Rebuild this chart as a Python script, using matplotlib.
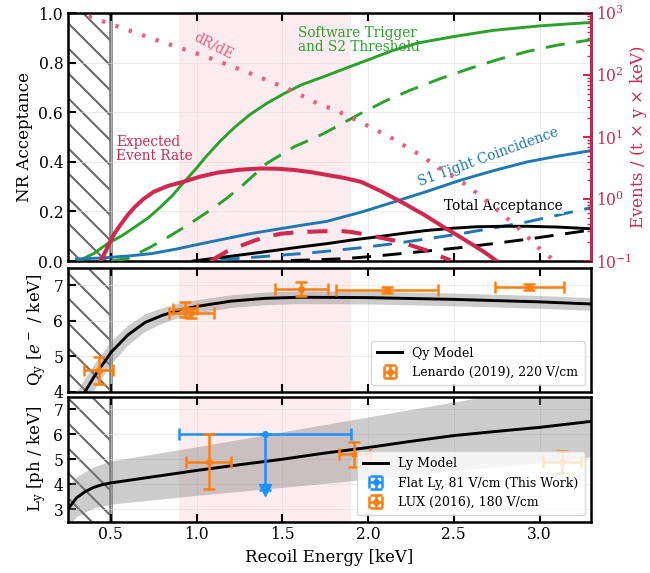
import numpy as np
import matplotlib
matplotlib.use("Agg")
import matplotlib.pyplot as plt
from matplotlib.lines import Line2D
from matplotlib.patches import Rectangle
from matplotlib.transforms import IdentityTransform

plt.rcParams['font.family'] = ['DejaVu Serif']
plt.rcParams['mathtext.fontset'] = 'dejavuserif'

# ---- top panel: acceptances (linear) ----
trig_x = [0.31, 0.4, 0.48, 0.56, 0.64, 0.72, 0.79, 0.86, 0.92, 1.0, 1.06, 1.14, 1.22, 1.31, 1.41, 1.51, 1.61, 1.76, 1.88, 2.0, 2.14, 2.29, 2.5, 2.73, 3.0, 3.3]
trig_y = [0.0, 0.03, 0.07, 0.1, 0.137, 0.175, 0.218, 0.265, 0.313, 0.375, 0.425, 0.485, 0.538, 0.59, 0.636, 0.675, 0.71, 0.748, 0.78, 0.811, 0.848, 0.879, 0.905, 0.93, 0.948, 0.962]
trig_d_x = [0.5, 0.6, 0.73, 0.83, 0.93, 1.08, 1.17, 1.26, 1.41, 1.57, 1.7, 1.76, 1.96, 2.1, 2.25, 2.42, 2.6, 2.76, 2.93, 3.1, 3.3]
trig_d_y = [0.0, 0.01, 0.056, 0.095, 0.137, 0.205, 0.25, 0.3, 0.394, 0.461, 0.5, 0.521, 0.596, 0.645, 0.69, 0.735, 0.778, 0.813, 0.845, 0.87, 0.892]
s1_x = [0.3, 0.44, 0.6, 0.74, 0.88, 1.03, 1.17, 1.32, 1.46, 1.61, 1.76, 1.96, 2.15, 2.35, 2.54, 2.73, 2.93, 3.1, 3.3]
s1_y = [0.008, 0.012, 0.02, 0.03, 0.048, 0.07, 0.09, 0.111, 0.127, 0.144, 0.16, 0.197, 0.238, 0.282, 0.326, 0.364, 0.4, 0.422, 0.445]
s1_d_x = [1.14, 1.35, 1.5, 1.65, 1.8, 1.95, 2.15, 2.35, 2.54, 2.73, 2.93, 3.1, 3.3]
s1_d_y = [0.005, 0.016, 0.024, 0.032, 0.042, 0.053, 0.07, 0.09, 0.11, 0.133, 0.158, 0.184, 0.215]
tot_x = [0.98, 1.15, 1.32, 1.46, 1.61, 1.76, 1.9, 2.05, 2.2, 2.34, 2.49, 2.63, 2.78, 2.93, 3.1, 3.3]
tot_y = [0.0, 0.015, 0.03, 0.043, 0.057, 0.07, 0.084, 0.097, 0.111, 0.123, 0.132, 0.138, 0.14, 0.14, 0.137, 0.13]
tot_d_x = [1.55, 1.7, 1.85, 2.0, 2.15, 2.34, 2.54, 2.73, 2.93, 3.1, 3.3]
tot_d_y = [0.002, 0.005, 0.009, 0.017, 0.027, 0.04, 0.054, 0.07, 0.088, 0.105, 0.125]
rate_x = [0.44, 0.47, 0.49, 0.52, 0.56, 0.6, 0.64, 0.69, 0.75, 0.83, 0.92, 1.02, 1.12, 1.25, 1.37, 1.47, 1.57, 1.67, 1.76, 1.86, 1.96, 2.08, 2.21, 2.33, 2.44, 2.52, 2.6, 2.68, 2.75]
rate_y = [0.0, 0.04, 0.07, 0.11, 0.15, 0.187, 0.218, 0.25, 0.279, 0.302, 0.319, 0.34, 0.356, 0.368, 0.373, 0.372, 0.367, 0.358, 0.347, 0.335, 0.319, 0.28, 0.232, 0.185, 0.137, 0.104, 0.07, 0.035, 0.0]
rate_d_x = [1.08, 1.13, 1.18, 1.26, 1.34, 1.41, 1.49, 1.57, 1.65, 1.75, 1.84, 1.9, 1.96, 2.05, 2.15, 2.25, 2.34, 2.41, 2.48]
rate_d_y = [0.0, 0.02, 0.04, 0.062, 0.083, 0.098, 0.11, 0.115, 0.118, 0.12, 0.121, 0.117, 0.11, 0.097, 0.083, 0.063, 0.043, 0.022, 0.003]
# dR/dE on right log axis
drde_x = [0.37, 0.54, 0.79, 1.05, 1.31, 1.55, 1.72, 1.8, 1.97, 2.13, 2.29, 2.43, 2.59, 2.73, 2.87, 2.99, 3.07]
drde_y = [880, 605, 348, 200, 107, 57, 33, 28, 16.6, 9.9, 5.4, 3.0, 1.57, 0.75, 0.355, 0.168, 0.11]

# ---- middle panel: Qy ----
qy_x = [0.3, 0.35, 0.4, 0.45, 0.5, 0.6, 0.7, 0.8, 0.9, 1.0, 1.2, 1.4, 1.6, 2.0, 2.5, 3.0, 3.3]
qy_y = [3.6, 4.0, 4.4, 4.75, 5.1, 5.6, 5.95, 6.15, 6.3, 6.4, 6.55, 6.63, 6.66, 6.65, 6.6, 6.53, 6.47]
qy_err = [0.4, 0.38, 0.36, 0.34, 0.32, 0.28, 0.25, 0.22, 0.2, 0.19, 0.18, 0.18, 0.18, 0.18, 0.18, 0.18, 0.18]
len_x = [0.43, 0.93, 0.97, 1.61, 2.11, 2.94]
len_y = [4.6, 6.32, 6.22, 6.9, 6.87, 6.95]
len_xerr = [0.085, 0.07, 0.13, 0.155, 0.295, 0.2]
len_yerr = [0.38, 0.22, 0.15, 0.2, 0.08, 0.08]

# ---- bottom panel: Ly ----
ly_x = [0.25, 0.3, 0.35, 0.4, 0.45, 0.5, 0.75, 1.0, 1.25, 1.5, 1.75, 2.0, 2.25, 2.5, 2.75, 3.0, 3.3]
ly_y = [3.0, 3.45, 3.7, 3.87, 3.98, 4.05, 4.3, 4.55, 4.78, 5.0, 5.25, 5.47, 5.72, 5.95, 6.12, 6.28, 6.52]
ly_band_x = [0.25, 0.3, 0.4, 0.5, 1.0, 1.5, 2.0, 2.5, 3.0, 3.3]
ly_band_lo = [2.3, 2.7, 3.05, 3.2, 3.55, 3.87, 4.2, 4.55, 4.85, 5.1]
ly_band_hi = [3.9, 4.3, 4.7, 4.93, 5.5, 6.1, 6.7, 7.3, 7.9, 8.3]
flat_x = [1.4]
flat_y = [6.0]
flat_xerr = [0.5]
flat_lower = [3.75]
lux_x = [1.07, 1.92, 3.13]
lux_y = [4.9, 5.2, 4.9]
lux_xerr = [0.13, 0.09, 0.11]
lux_yerr = [1.1, 0.5, 0.45]

green = '#2ca02c'
blue = '#1f77b4'
red = '#d1284f'
pink = '#ec5d7c'
orange = '#ff7f0e'
lblue = '#1e90ff'

fig = plt.figure(figsize=(6.5, 5.73), dpi=100)
L, R = 68 / 650, 591 / 650
def box(top, bot):
    return [L, 1 - bot / 573, R - L, (bot - top) / 573]
ax1 = fig.add_axes(box(13, 261))
ax2 = fig.add_axes(box(267.5, 391.5), sharex=ax1)
ax3 = fig.add_axes(box(397, 521.5), sharex=ax1)


def hatch_region(ax, x0, x1, spacing=25, phase=18):
    # diagonal '\' lines in pixel space, clipped to the excluded energy region
    y0, y1 = ax.get_ylim()
    px0, py0 = ax.transData.transform((x0, y0))
    px1, py1 = ax.transData.transform((x1, y1))
    clip = Rectangle((x0, y0), x1 - x0, y1 - y0, transform=ax.transData, fill=False)
    c = np.arange(np.floor(px0 + py0) - spacing, px1 + py1 + spacing, 1.0)
    c = c[(c % spacing).round().astype(int) == phase]
    for ci in c:
        ln = Line2D([ci - py1, ci - py0], [py1, py0], transform=IdentityTransform(),
                    color='#6a6a6a', lw=1.5, zorder=1)
        ax.add_artist(ln)
        ln.set_clip_path(clip)
    ax.axvline(x1, color='#7a7a7a', lw=2.6, zorder=1)


fs = 11.2
tfs = 9.8
lfs = 9.0
for ax in (ax1, ax2, ax3):
    ax.axvspan(0.9, 1.9, color='crimson', alpha=0.08, lw=0, zorder=0)
    ax.grid(True, color='#dddddd', lw=0.7, alpha=0.6)
    ax.tick_params(direction='in', top=True, length=6, width=1.5, labelsize=fs)
    for s in ax.spines.values():
        s.set_linewidth(1.8)
ax1.set_xlim(0.25, 3.3)

# top panel
lw = 2.1
ax1.plot(trig_x, trig_y, color=green, lw=lw, zorder=3)
ax1.plot(trig_d_x, trig_d_y, color=green, lw=lw, ls=(0, (6.5, 4)), zorder=3)
ax1.plot(s1_x, s1_y, color=blue, lw=lw, zorder=3)
ax1.plot(s1_d_x, s1_d_y, color=blue, lw=lw, ls=(0, (6.5, 4)), zorder=3)
ax1.plot(tot_x, tot_y, color='black', lw=lw, zorder=3)
ax1.plot(tot_d_x, tot_d_y, color='black', lw=lw, ls=(0, (6.5, 4)), zorder=3)
ax1.plot(rate_x, rate_y, color=red, lw=2.9, zorder=4)
ax1.plot(rate_d_x, rate_d_y, color=red, lw=2.9, ls=(0, (5, 3.5)), zorder=4)
ax1.set_ylim(0, 1)
ax1.set_yticks(np.arange(0, 1.01, 0.2))
ax1.set_ylabel('NR Acceptance', fontsize=fs + 0.8)
ax1.tick_params(labelbottom=False, right=False)

ax1r = ax1.twinx()
ax1r.plot(drde_x, drde_y, color=pink, lw=3.0, ls=(0, (0.8, 2.6)), zorder=3)
ax1r.set_yscale('log')
ax1r.set_ylim(0.1, 1000)
ax1r.tick_params(axis='y', which='both', colors=red, direction='in', labelsize=fs)
ax1r.tick_params(axis='y', which='major', length=6, width=1.5)
ax1r.tick_params(axis='y', which='minor', length=3, width=1)
ax1r.spines['right'].set_color(red)
ax1r.spines['right'].set_linewidth(1.8)
ax1r.set_ylabel(r'Events / (t $\times$ y $\times$ keV)', color=red, fontsize=fs + 0.8)
ax1r.yaxis.set_label_coords(1.07, 0.5)

ax1.text(1.10, 0.87, 'dR/dE', color=pink, fontsize=tfs, rotation=-27, ha='center', va='center')
ax1.text(0.53, 0.45, 'Expected\nEvent Rate', color=red, fontsize=tfs, ha='left', va='center', linespacing=1.0)
ax1.text(1.59, 0.89, 'Software Trigger\nand S2 Threshold', color=green, fontsize=tfs,
         ha='left', va='center', linespacing=1.0)
ax1.text(2.70, 0.42, 'S1 Tight Coincidence', color=blue, fontsize=tfs, rotation=20, ha='center', va='center')
ax1.text(2.79, 0.22, 'Total Acceptance', color='black', fontsize=tfs, ha='center', va='center',
         bbox=dict(facecolor='white', edgecolor='none', alpha=0.7, pad=0.5), zorder=5)

# middle panel
qy_lo = np.array(qy_y) - np.array(qy_err)
qy_hi = np.array(qy_y) + np.array(qy_err)
ax2.fill_between(qy_x, qy_lo, qy_hi, color='gray', alpha=0.4, lw=0, zorder=2)
ax2.plot(qy_x, qy_y, color='black', lw=lw, zorder=3, label='Qy Model')
ax2.errorbar(len_x, len_y, xerr=len_xerr, yerr=len_yerr, fmt='o', ms=4, color=orange,
             elinewidth=1.8, capsize=4, capthick=1.8, zorder=4, label='Lenardo (2019), 220 V/cm')
ax2.set_ylim(4, 7.5)
ax2.set_yticks([4, 5, 6, 7])
ax2.set_ylabel(r'$\mathregular{Q_y}$ [$e^-$ / keV]', fontsize=fs + 0.8)
ax2.tick_params(labelbottom=False)
ax2.legend(loc='lower right', fontsize=lfs, framealpha=0.8, borderpad=0.5, handlelength=2.0)

# bottom panel
ax3.fill_between(ly_band_x, ly_band_lo, ly_band_hi, color='gray', alpha=0.4, lw=0, zorder=2)
ax3.plot(ly_x, ly_y, color='black', lw=lw, zorder=3, label='Ly Model')
flat_dy = np.array(flat_y) - np.array(flat_lower)
ax3.errorbar(flat_x, flat_y, xerr=flat_xerr, yerr=[flat_dy, np.zeros(1)], fmt='o', ms=4, color=lblue,
             elinewidth=1.8, capsize=4, capthick=1.8, zorder=4, label='Flat Ly, 81 V/cm (This Work)')
ax3.plot(flat_x, flat_lower, marker='v', ms=8, color=lblue, ls='none', zorder=4)
ax3.errorbar(lux_x, lux_y, xerr=lux_xerr, yerr=lux_yerr, fmt='o', ms=4, color=orange,
             elinewidth=1.8, capsize=4, capthick=1.8, zorder=4, label='LUX (2016), 180 V/cm')
ax3.set_ylim(2.5, 7.5)
ax3.set_yticks([3, 4, 5, 6, 7])
ax3.set_xticks([0.5, 1.0, 1.5, 2.0, 2.5, 3.0])
ax3.set_xlim(0.25, 3.3)
ax3.set_ylabel(r'$\mathregular{L_y}$ [ph / keV]', fontsize=fs + 0.8)
ax3.set_xlabel('Recoil Energy [keV]', fontsize=fs + 0.8)
ax3.legend(loc='lower right', fontsize=lfs, framealpha=0.8, borderpad=0.5, handlelength=2.0)

for ax in (ax1, ax2, ax3):
    hatch_region(ax, 0.25, 0.5)

fig.align_ylabels([ax1, ax2, ax3])
fig.savefig('out.png', dpi=100)
